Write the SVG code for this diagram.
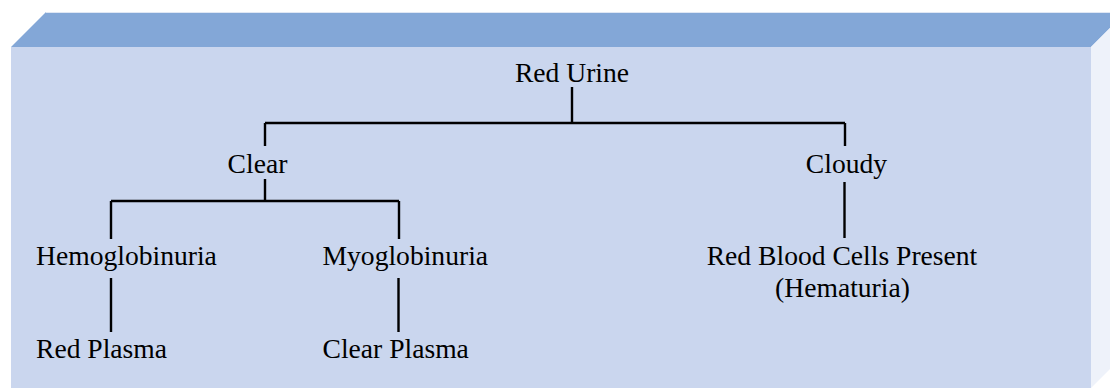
<svg xmlns="http://www.w3.org/2000/svg" width="1110" height="389" viewBox="0 0 1110 389">
<style>
.t{font-family:"Liberation Serif","Times New Roman",serif;font-size:27.6px;fill:#000}
.c{text-anchor:middle}
.ln{stroke:#000;stroke-width:2.4;fill:none}
</style>
<rect width="1110" height="389" fill="#ffffff"/>
<g id="box">
<polygon points="11,47 46,12 1126,12 1091,47" fill="#83a7d7"/>
<line x1="46" y1="12.5" x2="1110" y2="12.5" stroke="#dfe7f4" stroke-width="1"/>
<polygon points="1091,47 1126,12 1126,353 1091,388" fill="#eef2fa"/>
<rect x="11" y="47" width="1080" height="341" fill="#cad6ee"/>
</g>
<g id="connectors">
<path class="ln" d="M572,87 V123 M265,123 H845 M265,123 V146 M845,123 V146"/>
<path class="ln" d="M265,179 V201 M111,201 H399 M111,201 V239 M399,201 V239"/>
<path class="ln" d="M111,278 V332 M398.5,278 V332"/>
<path class="ln" d="M844.5,182 V238"/>
</g>
<g id="n-red-urine"><text class="t c" x="572" y="82">Red Urine</text></g>
<g id="n-clear"><text class="t c" x="257.5" y="173">Clear</text></g>
<g id="n-cloudy"><text class="t c" x="846.5" y="173">Cloudy</text></g>
<g id="n-hemoglobinuria"><text class="t" x="36" y="265">Hemoglobinuria</text></g>
<g id="n-myoglobinuria"><text class="t" x="322.5" y="265">Myoglobinuria</text></g>
<g id="n-rbc"><text class="t c" x="842" y="265">Red Blood Cells Present</text><text class="t c" x="842.5" y="297">(Hematuria)</text></g>
<g id="n-red-plasma"><text class="t" x="36" y="358">Red Plasma</text></g>
<g id="n-clear-plasma"><text class="t" x="322.5" y="358">Clear Plasma</text></g>
</svg>
